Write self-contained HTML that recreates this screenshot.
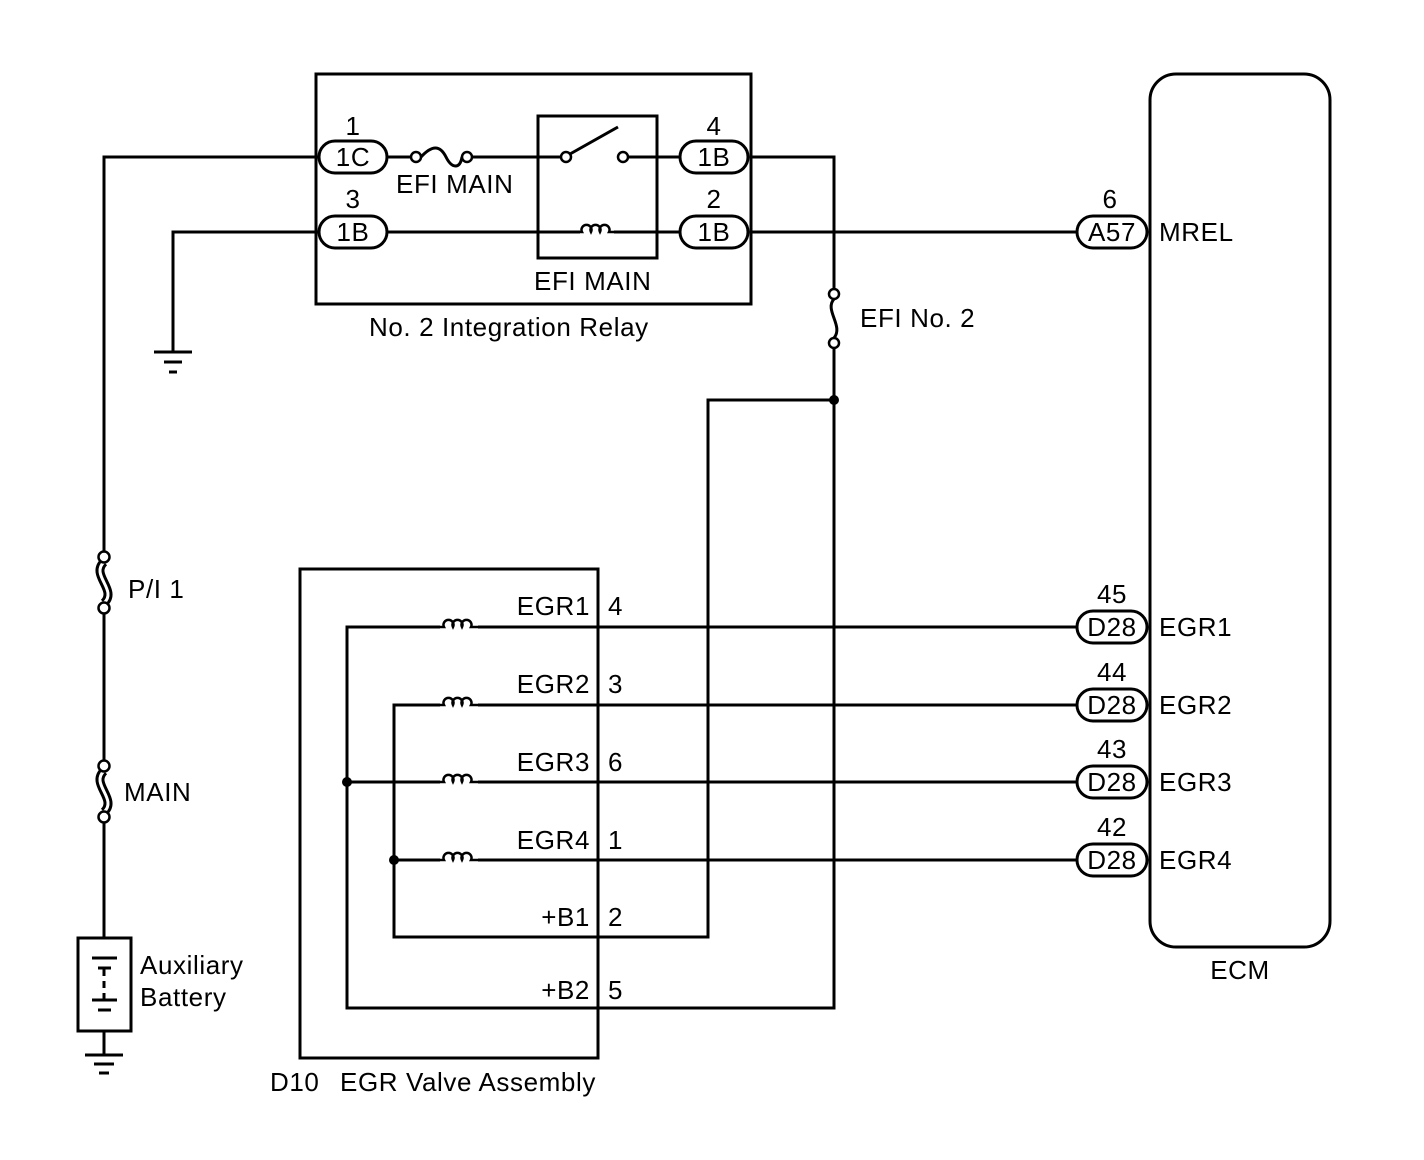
<!DOCTYPE html>
<html><head><style>body{margin:0;background:#fff}svg{display:block}text{font-family:"Liberation Sans",sans-serif;font-size:26px;letter-spacing:0.6px;fill:#000}</style></head><body>
<svg width="1424" height="1160" viewBox="0 0 1424 1160" xmlns="http://www.w3.org/2000/svg">
<defs>
<g id="coil"><path d="M0,0 h4 a5,5 0 1 1 9,0 a5,5 0 1 1 9,0 a5,5 0 1 1 9,0 h7" fill="none" stroke="#000" stroke-width="2.5"/></g>
</defs>
<g fill="none" stroke="#000" stroke-width="3">
<rect x="316" y="74" width="435" height="230"/>
<rect x="538" y="116" width="119" height="142"/>
<rect x="1150" y="74" width="180" height="873" rx="26"/>
<rect x="300" y="569" width="298" height="489"/>
<rect x="78" y="938" width="53" height="93"/>
<path d="M318,157 H104 V553 M104,612 V762 M104,821 V938 M104,1031 V1055"/>
<path d="M318,232 H173 V352"/>
<path d="M154,352 H192 M164,362 H182 M169,372 H177"/>
<path d="M85,1055 H123 M94,1064 H114 M99,1073 H109"/>
<path d="M92,958 H117 M98,968 H111 M104,968 V976 M104,981 V988 M104,993 V1000 M92,1000 H117 M98,1010 H111"/>
<path d="M388,157 H411 M472,157 H561 M628,157 H680 M388,232 H580 M614,232 H680"/>
<path d="M421,157 C432,145 440,145 446,157 C452,169 460,169 462,157"/>
<path d="M570,154 L618,127"/>
<path d="M751,157 H834 V289 M834,348 V1008 H347 V627 H440 M478,627 H1078"/>
<path d="M751,232 H1078"/>
<path d="M834,400 H708 V937 H394 V705 H440 M478,705 H1078"/>
<path d="M347,782 H440 M478,782 H1078"/>
<path d="M394,860 H440 M478,860 H1078"/>
<path d="M834,299 C824,310 844,326 834,338"/>
</g>
<g fill="none" stroke="#000" stroke-width="9"><path d="M104,562 C90,575 118,590 104,603"/><path d="M104,771 C90,784 118,799 104,812"/></g>
<g fill="none" stroke="#fff" stroke-width="3"><path d="M104,562 C90,575 118,590 104,603"/><path d="M104,771 C90,784 118,799 104,812"/></g>
<g fill="#fff" stroke="#000" stroke-width="2.5">
<circle cx="416" cy="157" r="5"/><circle cx="467" cy="157" r="5"/>
<circle cx="566" cy="157" r="5"/><circle cx="623" cy="157" r="5"/>
<circle cx="834" cy="294" r="5"/><circle cx="834" cy="343" r="5"/>
<circle cx="104" cy="557" r="5.5"/><circle cx="104" cy="608" r="5.5"/>
<circle cx="104" cy="766" r="5.5"/><circle cx="104" cy="817" r="5.5"/>
</g>
<use href="#coil" x="578" y="232"/>
<use href="#coil" x="440" y="627"/><use href="#coil" x="440" y="705"/>
<use href="#coil" x="440" y="782"/><use href="#coil" x="440" y="860"/>
<circle cx="834" cy="400" r="5"/><circle cx="347" cy="782" r="5"/><circle cx="394" cy="860" r="5"/>
<g fill="#fff" stroke="#000" stroke-width="3">
<rect x="319" y="141" width="68" height="32" rx="16"/><rect x="319" y="216" width="68" height="32" rx="16"/>
<rect x="680" y="141" width="68" height="32" rx="16"/><rect x="680" y="216" width="68" height="32" rx="16"/>
<rect x="1077" y="216" width="70" height="32" rx="16"/>
<rect x="1077" y="611" width="70" height="32" rx="16"/><rect x="1077" y="689" width="70" height="32" rx="16"/>
<rect x="1077" y="766" width="70" height="32" rx="16"/><rect x="1077" y="844" width="70" height="32" rx="16"/>
</g>
<g text-anchor="middle">
<text x="353" y="166">1C</text><text x="353" y="241">1B</text>
<text x="714" y="166">1B</text><text x="714" y="241">1B</text>
<text x="1112" y="241">A57</text>
<text x="1112" y="636">D28</text><text x="1112" y="714">D28</text><text x="1112" y="791">D28</text><text x="1112" y="869">D28</text>
<text x="353" y="135">1</text><text x="353" y="208">3</text><text x="714" y="135">4</text><text x="714" y="208">2</text>
<text x="1110" y="208">6</text><text x="1112" y="603">45</text><text x="1112" y="681">44</text><text x="1112" y="758">43</text><text x="1112" y="836">42</text>
<text x="1240" y="979">ECM</text>
</g>
<text x="396" y="193">EFI MAIN</text>
<text x="534" y="290">EFI MAIN</text>
<text x="369" y="336">No. 2 Integration Relay</text>
<text x="860" y="327">EFI No. 2</text>
<text x="1159" y="241">MREL</text>
<text x="1159" y="636">EGR1</text><text x="1159" y="714">EGR2</text><text x="1159" y="791">EGR3</text><text x="1159" y="869">EGR4</text>
<g text-anchor="end"><text x="590" y="615">EGR1</text><text x="590" y="693">EGR2</text><text x="590" y="771">EGR3</text><text x="590" y="849">EGR4</text><text x="590" y="926">+B1</text><text x="590" y="999">+B2</text></g>
<text x="608" y="615">4</text><text x="608" y="693">3</text><text x="608" y="771">6</text><text x="608" y="849">1</text><text x="608" y="926">2</text><text x="608" y="999">5</text>
<text x="128" y="598">P/I 1</text>
<text x="124" y="801">MAIN</text>
<text x="140" y="974">Auxiliary</text><text x="140" y="1006">Battery</text>
<text x="270" y="1091">D10</text><text x="340" y="1091">EGR Valve Assembly</text>
</svg>
</body></html>
